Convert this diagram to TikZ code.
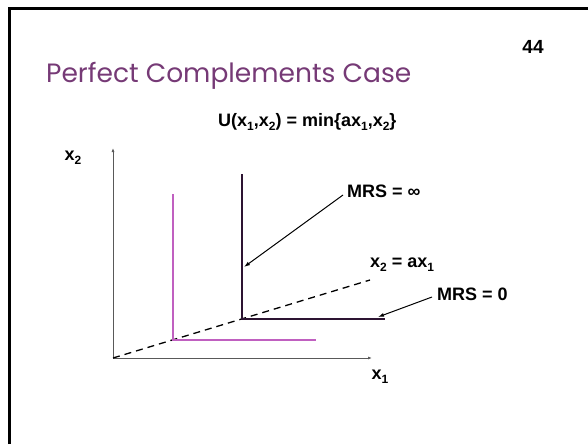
\documentclass[tikz,border=0pt]{standalone}
\usepackage{fontspec}
\setmainfont{Liberation Sans}
\newfontfamily\titlefont{Poppins}
\usetikzlibrary{arrows.meta, positioning}
\definecolor{titlepurple}{RGB}{118,58,118}
\definecolor{curvepink}{RGB}{192,96,192}
\definecolor{curvedark}{RGB}{45,20,50}
\newcommand{\lowsub}[1]{\raisebox{-0.4ex}{\fontsize{12}{12}\selectfont #1}}

\begin{document}
\begin{tikzpicture}[
  x=1pt, y=-1pt,
  lbl/.style={font=\fontsize{18}{20}\selectfont\bfseries, inner sep=2pt},
  axisline/.style={black!65, line width=1pt, -{Latex[length=4pt,width=3pt]}},
  pointer/.style={black, line width=1pt, -{Latex[length=6pt,width=4pt]}},
  rayline/.style={black, line width=1.3pt, dash pattern=on 7pt off 5pt},
  lowcurve/.style={curvepink, line width=1.8pt},
  highcurve/.style={curvedark, line width=2.2pt},
]
\useasboundingbox (0,0) rectangle (588,444);
\draw[line width=3pt] (9.5,444) -- (9.5,9) -- (588,9);

% title and slide number
\node[anchor=base west, inner sep=0pt, text=titlepurple, font=\titlefont\fontsize{26.5}{30}\selectfont] (title) at (46,82) {Perfect Complements Case};
\node[font=\fontsize{19}{21}\selectfont\bfseries] (pageno) at (533,47) {44};

% axes
\coordinate (O) at (113,358);
\coordinate (ytop) at (113,148);
\coordinate (xend) at (372,358);
\draw[axisline] (O) -- (ytop);
\draw[axisline] (O) -- (xend);
\node[lbl] (ylab) at (73,158) {x\lowsub{2}};
\node[lbl] (xlab) at (380,377) {x\lowsub{1}};

% ray and indifference curves
\coordinate (rayend) at (370,280);
\draw[rayline] (O) -- (rayend);
\coordinate (kinkA) at (173,340);
\coordinate (kinkB) at (242,319);
\draw[lowcurve] (173,194) -- (kinkA) -- (316,340);
\draw[highcurve] (242,174) -- (kinkB) -- (385,319);

% labels
\node[lbl, anchor=west] (ufun) at (216,122) {U(x\lowsub{1},x\lowsub{2}) = min\{ax\lowsub{1},x\lowsub{2}\}};
\node[lbl, anchor=west] (minf) at (345,191) {MRS = ∞};
\node[lbl, anchor=west] (rayeq) at (368,265) {x\lowsub{2} = ax\lowsub{1}};
\node[lbl, anchor=west] (mzero) at (435,294) {MRS = 0};

% pointers
\coordinate (onvert) at (244,267);
\coordinate (onhorz) at (378,317);
\draw[pointer] ([shift={(-2,4)}]minf.west) -- (onvert);
\draw[pointer] ([shift={(-3,3)}]mzero.west) -- (onhorz);
\end{tikzpicture}
\end{document}
